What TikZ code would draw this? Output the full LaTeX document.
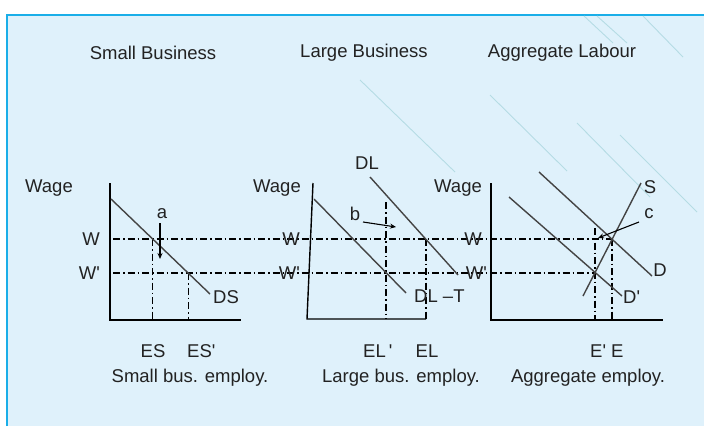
\documentclass[tikz,border=0pt]{standalone}
\usepackage{fontspec}
\setmainfont{Liberation Sans}[Ligatures=TeXOff]
\usetikzlibrary{arrows.meta}
\definecolor{bgblue}{HTML}{DFF1FB}
\definecolor{frameblue}{HTML}{1AAEE8}
\definecolor{deco}{HTML}{B5DCE4}
\definecolor{curvegray}{HTML}{444444}
\definecolor{ink}{HTML}{222222}
\newcommand{\apos}{\char"27\relax}
\begin{document}
\begin{tikzpicture}[x=1pt,y=-1pt,
  lbl/.style={font=\fontsize{18.5}{21}\selectfont, text=ink, inner sep=0pt},
  axisline/.style={line width=1.4pt, black},
  curveline/.style={line width=1.4pt, curvegray},
  guide/.style={line width=1.1pt, black, dash pattern=on 7pt off 3pt on 1.5pt off 3pt},
  shiftarrow/.style={line width=1.1pt, black, -{Stealth[length=6pt,width=5pt]}},
  decoline/.style={deco, line width=0.9pt}]
\useasboundingbox (0,0) rectangle (704,426);
\fill[white] (0,0) rectangle (704,426);
\fill[bgblue] (7,15) rectangle (704,426);
\draw[frameblue, line width=2.5pt] (7,426) -- (7,15) -- (704,15);
% decorative background lines
\draw[decoline] (360,80) -- (455,172);
\draw[decoline] (490,95) -- (567,171);
\draw[decoline] (577,123) -- (650,197);
\draw[decoline] (620,135) -- (697,212);
\draw[decoline] (584,16) -- (613,43);
\draw[decoline] (597,16) -- (627,43);
\draw[decoline] (643,16) -- (683,57);

% titles
\node[lbl] (t1) at (153,53) {Small Business};
\node[lbl] (t2) at (364,53) {Large Business};
\node[lbl] (t3) at (562,53) {Aggregate Labour};

% ---------- coordinates ----------
% panel 1
\coordinate (y1) at (110,183);
\coordinate (o1) at (110,320);
\coordinate (x1) at (241,320);
\coordinate (ds1) at (111,199);
\coordinate (ds2) at (210,294);
\coordinate (es) at (152.7,320);
\coordinate (esW) at (152.7,239);
\coordinate (esp) at (188.1,320);
\coordinate (espW) at (188.1,273);
% panel 2
\coordinate (y2) at (313,183);
\coordinate (o2) at (307,319);
\coordinate (x2) at (426,319);
\coordinate (dlt1) at (314,199);
\coordinate (dlt2) at (406,293);
\coordinate (dl1) at (370,177);
\coordinate (dl2) at (458,275);
\coordinate (elp) at (386,319);
\coordinate (elpT) at (386,202);
\coordinate (el) at (426,319);
\coordinate (elW) at (426,239);
% panel 3
\coordinate (y3) at (491,183);
\coordinate (o3) at (491,320);
\coordinate (x3) at (663,320);
\coordinate (d1) at (539,172);
\coordinate (d2) at (652,276);
\coordinate (dp1) at (509,197);
\coordinate (dp2) at (622,296);
\coordinate (s1) at (583,296);
\coordinate (s2) at (641,183);
\coordinate (ep) at (595,320);
\coordinate (epT) at (595,228);
\coordinate (e) at (612,320);
\coordinate (eW) at (612,239);
% wage levels
\coordinate (wL) at (113,239);
\coordinate (wpL) at (113,273);
\coordinate (wpR) at (595,273);

% ---------- guides ----------
\draw[guide] (wL) -- (eW);
\draw[guide] (wpL) -- (wpR);
\draw[guide] (esW) -- (es);
\draw[guide] (espW) -- (esp);
\draw[guide] (elpT) -- (elp);
\draw[guide] (elW) -- (el);
\draw[guide] (epT) -- (ep);
\draw[guide] (eW) -- (e);

% ---------- axes ----------
\draw[axisline] (y1) -- (o1) -- (x1);
\draw[axisline] (y2) -- (o2) -- (x2);
\draw[axisline] (y3) -- (o3) -- (x3);

% ---------- curves ----------
\draw[curveline] (ds1) -- (ds2);
\draw[curveline] (dlt1) -- (dlt2);
\draw[curveline] (dl1) -- (dl2);
\draw[curveline] (d1) -- (d2);
\draw[curveline] (dp1) -- (dp2);
\draw[curveline] (s1) -- (s2);

% ---------- labels ----------
\node[lbl] (wage1) at (49,188) {Wage};
\node[lbl] (wage2) at (277,188) {Wage};
\node[lbl] (wage3) at (458,188) {Wage};
\node[lbl, anchor=east] (w1) at (100,239) {W};
\node[lbl, anchor=east] (wp1) at (100,273) {W\apos};
\node[lbl, anchor=east] (w2) at (300,239) {W};
\node[lbl, anchor=east] (wp2) at (300,273) {W\apos};
\node[lbl, anchor=east] (w3) at (482,239) {W};
\node[lbl, anchor=east] (wp3) at (487,273) {W\apos};
\node[lbl, anchor=west] (dsl) at (213,297) {DS};
\node[lbl, anchor=west] (dltl) at (414,296) {DL \textendash T};
\node[lbl] (dll) at (367,163) {DL};
\node[lbl] (sl) at (650,187) {S};
\node[lbl] (dlab) at (660,270) {D};
\node[lbl, anchor=west] (dpl) at (623,297) {D\apos};

% shift arrows
\node[lbl] (la) at (162,214) {a};
\node[lbl] (lb) at (355,214) {b};
\node[lbl] (lc) at (649,214) {c};
\coordinate (aStart) at (160,223);
\coordinate (aEnd) at (160,259);
\coordinate (bStart) at (363,222);
\coordinate (bEnd) at (396,227);
\coordinate (cStart) at (639,222);
\coordinate (cEnd) at (598,238);
\draw[shiftarrow] (aStart) -- (aEnd);
\draw[shiftarrow] (bStart) -- (bEnd);
\draw[shiftarrow] (cStart) -- (cEnd);

% bottom labels
\node[lbl] (esl) at (153,351) {ES};
\node[lbl, anchor=west] (espl) at (187,351) {ES\apos};
\node[lbl, anchor=west] (elpl) at (363,351) {EL\,\apos};
\node[lbl] (ell) at (427,351) {EL};
\node[lbl, anchor=west] (eel) at (590,351) {E\apos\ E};
\node[lbl] (cap1) at (190,378) {Small bus. employ.};
\node[lbl] (cap2) at (401,378) {Large bus. employ.};
\node[lbl] (cap3) at (588,378) {Aggregate employ.};
\end{tikzpicture}
\end{document}
